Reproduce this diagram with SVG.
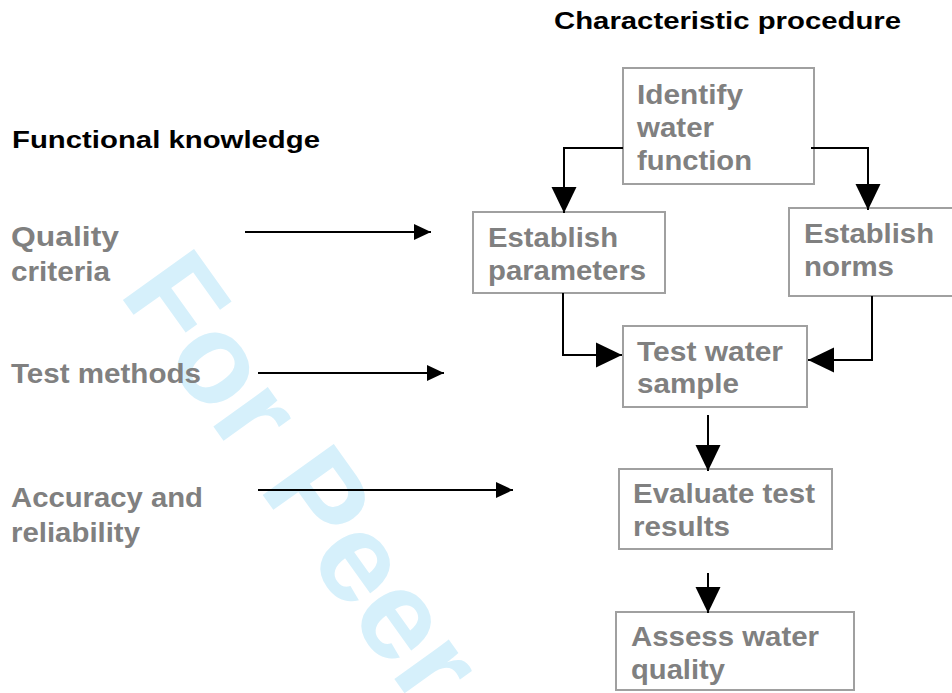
<svg xmlns="http://www.w3.org/2000/svg" width="952" height="693" viewBox="0 0 952 693">
<style>
  .wm { font-family: "Liberation Sans", Arial, sans-serif; font-weight: bold; font-size: 127px; fill: #d6f0fb; }
  .hd { font-family: "Liberation Sans", Arial, sans-serif; font-weight: bold; font-size: 24px; fill: #000; }
  .t { font-family: "Liberation Sans", Arial, sans-serif; font-weight: bold; font-size: 27.5px; fill: #808080; }
  .box { fill: none; stroke: #a0a0a0; stroke-width: 2; }
  .ln { fill: none; stroke: #000; stroke-width: 2; }
  .big { marker-end: url(#bigArrow); }
  .small { marker-end: url(#smallArrow); }
</style>
<defs>
  <marker id="bigArrow" markerUnits="userSpaceOnUse" markerWidth="26" markerHeight="26" refX="26" refY="13" orient="auto">
    <path d="M0,0.5 L26,13 L0,25.5 z" fill="#000"/>
  </marker>
  <marker id="smallArrow" markerUnits="userSpaceOnUse" markerWidth="17" markerHeight="17" refX="17" refY="8.5" orient="auto">
    <path d="M0,0.5 L17,8.5 L0,16.5 z" fill="#000"/>
  </marker>
</defs>
<rect width="952" height="693" fill="#fff"/>
<text class="wm" transform="translate(118,293) rotate(54.4)">For Peer</text>

<text class="hd" x="554" y="28.5" textLength="347" lengthAdjust="spacingAndGlyphs">Characteristic procedure</text>
<text class="hd" x="12" y="148" textLength="308" lengthAdjust="spacingAndGlyphs">Functional knowledge</text>

<g id="quality-criteria">
  <text class="t" x="11" y="246" textLength="108" lengthAdjust="spacingAndGlyphs">Quality</text>
  <text class="t" x="11" y="281" textLength="99" lengthAdjust="spacingAndGlyphs">criteria</text>
</g>
<g id="test-methods">
  <text class="t" x="11" y="383" textLength="190" lengthAdjust="spacingAndGlyphs">Test methods</text>
</g>
<g id="accuracy-reliability">
  <text class="t" x="11" y="507" textLength="192" lengthAdjust="spacingAndGlyphs">Accuracy and</text>
  <text class="t" x="11" y="542" textLength="129" lengthAdjust="spacingAndGlyphs">reliability</text>
</g>

<g id="identify">
  <rect class="box" x="623" y="68" width="191" height="116"/>
  <text class="t" x="637" y="104" textLength="106" lengthAdjust="spacingAndGlyphs">Identify</text>
  <text class="t" x="637" y="137" textLength="77" lengthAdjust="spacingAndGlyphs">water</text>
  <text class="t" x="637" y="170" textLength="115" lengthAdjust="spacingAndGlyphs">function</text>
</g>
<g id="establish-parameters">
  <rect class="box" x="473" y="212" width="192" height="81"/>
  <text class="t" x="488" y="247" textLength="130" lengthAdjust="spacingAndGlyphs">Establish</text>
  <text class="t" x="488" y="280" textLength="158" lengthAdjust="spacingAndGlyphs">parameters</text>
</g>
<g id="establish-norms">
  <rect class="box" x="789" y="208" width="175" height="88"/>
  <text class="t" x="804" y="243" textLength="130" lengthAdjust="spacingAndGlyphs">Establish</text>
  <text class="t" x="804" y="276" textLength="90" lengthAdjust="spacingAndGlyphs">norms</text>
</g>
<g id="test-water-sample">
  <rect class="box" x="623" y="326" width="184" height="81"/>
  <text class="t" x="637" y="361" textLength="146" lengthAdjust="spacingAndGlyphs">Test water</text>
  <text class="t" x="637" y="393" textLength="102" lengthAdjust="spacingAndGlyphs">sample</text>
</g>
<g id="evaluate-results">
  <rect class="box" x="619" y="469" width="213" height="80"/>
  <text class="t" x="633" y="503" textLength="182" lengthAdjust="spacingAndGlyphs">Evaluate test</text>
  <text class="t" x="633" y="536" textLength="97" lengthAdjust="spacingAndGlyphs">results</text>
</g>
<g id="assess-quality">
  <rect class="box" x="616" y="612" width="238" height="78"/>
  <text class="t" x="631" y="646" textLength="188" lengthAdjust="spacingAndGlyphs">Assess water</text>
  <text class="t" x="631" y="679" textLength="94" lengthAdjust="spacingAndGlyphs">quality</text>
</g>

<g id="connectors">
  <path class="ln small" d="M245,232 H431"/>
  <path class="ln small" d="M258,373 H444"/>
  <path class="ln small" d="M258,490 H513"/>
  <path class="ln big" d="M623,148 H564 V213"/>
  <path class="ln big" d="M811,148 H868 V210"/>
  <path class="ln big" d="M563,293 V355 H622"/>
  <path class="ln big" d="M872,296 V360 H808"/>
  <path class="ln big" d="M708,415 V471"/>
  <path class="ln big" d="M708,573 V613"/>
</g>
</svg>
